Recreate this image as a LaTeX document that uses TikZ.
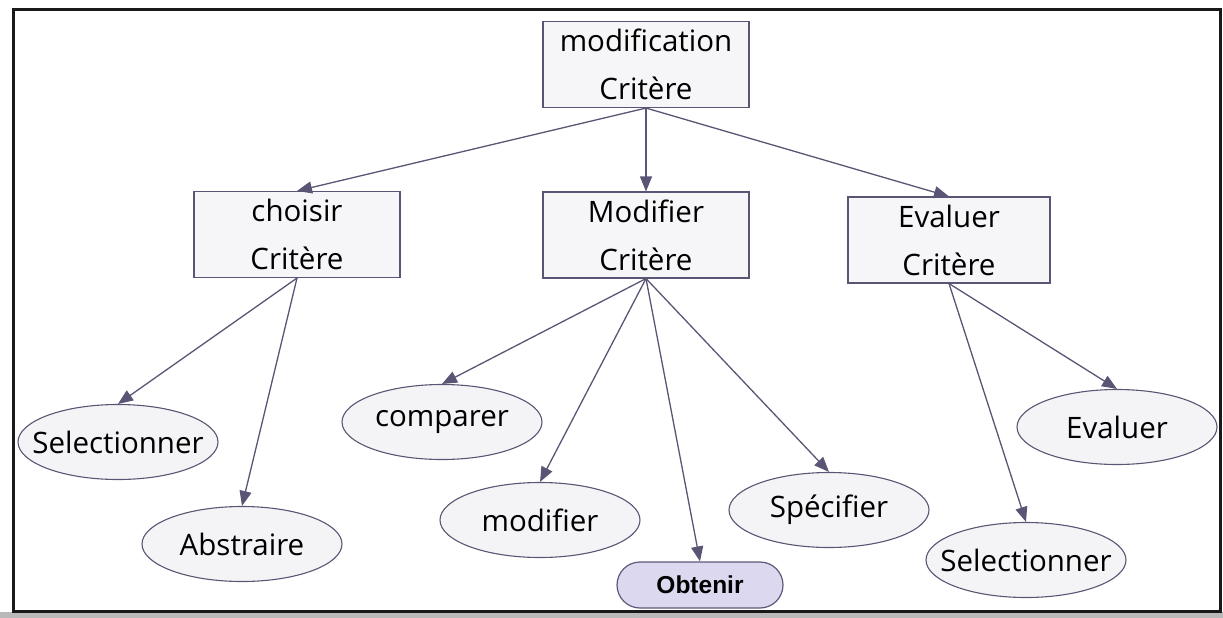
\documentclass[tikz,border=0pt]{standalone}
\usepackage{fontspec}
\setmainfont{Open Sans}
\newfontfamily\pillfont{Liberation Sans}
\usetikzlibrary{shapes.geometric,shapes.misc,arrows.meta}

\definecolor{edgeclr}{HTML}{5A5574}
\definecolor{boxfill}{HTML}{F6F6F8}
\definecolor{ovalfill}{HTML}{F4F4F6}
\definecolor{pillfill}{HTML}{DCD8F0}
\definecolor{pilledge}{HTML}{5E5878}

\tikzset{
  critbox/.style={draw=edgeclr, line width=1.1pt, fill=boxfill, rectangle,
    minimum width=206pt, minimum height=86pt, inner sep=0pt, align=center,
    font=\fontsize{29.5}{48}\selectfont},
  oval/.style={draw=edgeclr, line width=1.1pt, fill=ovalfill, ellipse,
    minimum width=200pt, minimum height=75pt, inner sep=0pt,
    font=\fontsize{29.5}{34}\selectfont},
  pill/.style={draw=pilledge, line width=1.2pt, fill=pillfill,
    rounded rectangle, minimum width=166pt, minimum height=46pt, inner sep=0pt,
    font=\pillfont\bfseries\fontsize{24.5}{28}\selectfont},
  link/.style={draw=edgeclr, line width=1.3pt,
    -{Triangle[length=15pt,width=12pt,fill=edgeclr]}}
}

% zero-width label so the oval keeps its fixed size
\newcommand{\ovtext}[1]{\makebox[0pt]{#1}}

\begin{document}
\begin{tikzpicture}[x=1pt,y=-1pt]
  \useasboundingbox (0,0) rectangle (1223,618);
  % page frame and lower scan band
  \fill[gray!55] (0,612) rectangle (1223,618);
  \draw[line width=3pt, black!90] (13,10) -- (1220,10) -- (1220,611) -- (13,611) -- cycle;

  % criteria boxes
  \node[critbox] (top)  at (646,64.5) {modification\\Critère};
  \node[critbox] (cho)  at (297,234.5) {choisir\\Critère};
  \node[critbox] (mod)  at (646,235) {Modifier\\Critère};
  \node[critbox, minimum width=202pt] (eva)  at (949,240) {Evaluer\\Critère};

  % actions
  \node[oval] (sel1) at (118,442) {\ovtext{Selectionner}};
  \node[oval] (abs)  at (242,544) {\ovtext{Abstraire}};
  \node[oval] (cmp)  at (442,422) {\ovtext{comparer}};
  \node[oval] (mdf)  at (540,520) {\ovtext{modifier}};
  \node[oval] (spe)  at (829,510) {\ovtext{Spécifier}};
  \node[oval] (evl)  at (1117,427) {\ovtext{Evaluer}};
  \node[oval] (sel2) at (1026,560) {\ovtext{Selectionner}};
  \node[pill] (obt)  at (700,585) {Obtenir};

  % connectors
  \draw[link] (top.south) -- (cho.north);
  \draw[link] (top.south) -- (mod.north);
  \draw[link] (top.south) -- (eva.north);
  \draw[link] (cho.south) -- (sel1.north);
  \draw[link] (cho.south) -- (abs.north);
  \draw[link] (mod.south) -- (cmp.north);
  \draw[link] (mod.south) -- (mdf.north);
  \draw[link] (mod.south) -- (obt.north);
  \draw[link] (mod.south) -- (spe.north);
  \draw[link] (eva.south) -- (evl.north);
  \draw[link] (eva.south) -- (sel2.north);
\end{tikzpicture}
\end{document}
